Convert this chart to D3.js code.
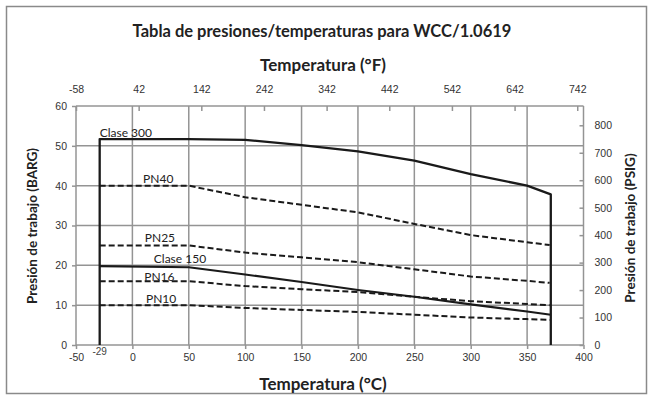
<!DOCTYPE html>
<html><head><meta charset="utf-8">
<script src="https://cdn.jsdelivr.net/npm/d3@7"></script>
<style>
body{margin:0;background:#fff;}
svg{display:block;}
</style></head>
<body>
<svg id="c" width="653" height="400"></svg>
<script>
// ---- data ----
const titleText = "Tabla de presiones/temperaturas para WCC/1.0619";
const xTicksC = [-50, 0, 50, 100, 150, 200, 250, 300, 350, 400];
const xTicksF = [-58, 42, 142, 242, 342, 442, 542, 642, 742];
const yTicksBar = [0, 10, 20, 30, 40, 50, 60];
const yTicksPsi = [0, 100, 200, 300, 400, 500, 600, 700, 800];

const clase300T = [-29, -29, 50, 100, 150, 200, 250, 300, 350, 371, 371];
const clase300V = [0, 51.7, 51.7, 51.5, 50.2, 48.6, 46.3, 42.9, 40.0, 37.8, 0];
const clase150T = [-29, 50, 100, 150, 200, 250, 300, 350, 371];
const clase150V = [19.8, 19.5, 17.7, 15.8, 13.8, 12.1, 10.2, 8.4, 7.6];
const pnT = [-29, 50, 100, 150, 200, 250, 300, 350, 370];
const pn40V = [40, 40, 37.1, 35.2, 33.3, 30.4, 27.6, 25.8, 25.1];
const pn25V = [25, 25, 23.2, 22.0, 20.8, 19.0, 17.2, 16.1, 15.6];
const pn16V = [16, 16, 14.8, 14.0, 13.3, 12.1, 11.0, 10.3, 10.0];
const pn10V = [10, 10, 9.3, 8.8, 8.3, 7.6, 6.9, 6.5, 6.3];

const seriesNames = ["Clase 300", "PN40", "PN25", "Clase 150", "PN16", "PN10"];

// ---- layout ----
const svg = d3.select("#c");
const L = 76, R = 583.5, T = 106, B = 345;
const x = d3.scaleLinear().domain([-50, 400]).range([L, R]);
const y = d3.scaleLinear().domain([0, 60]).range([B, T]);
const BAR2PSI = 14.5038;
const yPsi = d3.scaleLinear().domain([0, 60 * BAR2PSI]).range([B, T]);
const c2f = c => c * 9 / 5 + 32;
const xF = d3.scaleLinear().domain([c2f(-50), c2f(400)]).range([L, R]);

const gridCol = "#949494";
const tickFont = "'Liberation Sans', Arial, sans-serif";
const titleFont = "Lato, 'Open Sans', sans-serif";
const fmt = d => String(d);

// outer border
svg.append("rect").attr("x", 6.5).attr("y", 6.5).attr("width", 640).attr("height", 387)
  .attr("fill", "none").attr("stroke", "#8a8a8a").attr("stroke-width", 1.5);

// title
svg.append("text").attr("x", 322).attr("y", 37).attr("text-anchor", "middle")
  .attr("font-family", titleFont).attr("font-weight", "bold").attr("font-size", 16.5)
  .attr("fill", "#222").text(titleText);

// grid
const grid = svg.append("g");
grid.selectAll(".vg").data(xTicksC).join("line")
  .attr("x1", d => x(d)).attr("x2", d => x(d)).attr("y1", T).attr("y2", B)
  .attr("stroke", gridCol).attr("stroke-width", 1.5);
grid.selectAll(".hg").data(yTicksBar).join("line")
  .attr("x1", L).attr("x2", R).attr("y1", d => y(d)).attr("y2", d => y(d))
  .attr("stroke", gridCol).attr("stroke-width", 1.5);

function styleAxis(g) {
  g.select(".domain").remove();
  g.selectAll(".tick line").attr("stroke", gridCol).attr("stroke-width", 1.5);
  g.selectAll(".tick text").attr("font-family", tickFont).attr("font-size", 10.5).attr("fill", "#333");
}

// bottom axis
svg.append("g").attr("transform", `translate(0,${B})`)
  .call(d3.axisBottom(x).tickValues(xTicksC).tickSize(4).tickPadding(5).tickFormat(fmt))
  .call(styleAxis);
// left axis
svg.append("g").attr("transform", `translate(${L},0)`)
  .call(d3.axisLeft(y).tickValues(yTicksBar).tickSize(4).tickPadding(5).tickFormat(fmt))
  .call(styleAxis);
// right axis (PSIG)
svg.append("g").attr("transform", `translate(${R},0)`)
  .call(d3.axisRight(yPsi).tickValues(yTicksPsi).tickSizeInner(-4).tickSizeOuter(0).tickPadding(11).tickFormat(fmt))
  .call(styleAxis);
// top axis (°F)
svg.append("g").attr("transform", `translate(0,${T})`)
  .call(d3.axisTop(xF).tickValues(xTicksF).tickSizeInner(-5).tickSizeOuter(0).tickPadding(13).tickFormat(fmt))
  .call(styleAxis);

// -29 label
svg.append("text").attr("x", x(-29)).attr("y", 355).attr("text-anchor", "middle")
  .attr("font-family", tickFont).attr("font-size", 10).attr("fill", "#444").text("-29");

// axis titles
svg.append("text").attr("x", 323).attr("y", 71).attr("text-anchor", "middle")
  .attr("font-family", titleFont).attr("font-weight", "bold").attr("font-size", 17)
  .attr("fill", "#222").text("Temperatura (°F)");
svg.append("text").attr("x", 323).attr("y", 390).attr("text-anchor", "middle")
  .attr("font-family", titleFont).attr("font-weight", "bold").attr("font-size", 17)
  .attr("fill", "#222").text("Temperatura (°C)");
svg.append("text").attr("transform", "translate(37,226) rotate(-90)").attr("text-anchor", "middle")
  .attr("font-family", titleFont).attr("font-weight", "bold").attr("font-size", 13.5)
  .attr("fill", "#222").text("Presión de trabajo (BARG)");
svg.append("text").attr("transform", "translate(635,228) rotate(-90)").attr("text-anchor", "middle")
  .attr("font-family", titleFont).attr("font-weight", "bold").attr("font-size", 13.5)
  .attr("fill", "#222").text("Presión de trabajo (PSIG)");

// lines
const line = d3.line().x(d => x(d[0])).y(d => y(d[1]));
const zip = (a, b) => a.map((t, i) => [t, b[i]]);
const series = [
  {data: zip(clase300T, clase300V), dash: null, w: 2.3},
  {data: zip(pnT, pn40V), dash: "6,3", w: 2},
  {data: zip(pnT, pn25V), dash: "6,3", w: 2},
  {data: zip(clase150T, clase150V), dash: null, w: 2.1},
  {data: zip(pnT, pn16V), dash: "6,3", w: 2},
  {data: zip(pnT, pn10V), dash: "6,3", w: 2}
];
svg.append("g").selectAll("path").data(series).join("path")
  .attr("d", d => line(d.data)).attr("fill", "none").attr("stroke", "#1a1a1a")
  .attr("stroke-width", d => d.w).attr("stroke-dasharray", d => d.dash)
  .attr("stroke-linejoin", "round");

// series labels (anchor temperature / value)
const labelT = [-29, 9.5, 11, 19, 10.5, 12];
const labelV = [52.3, 40.7, 25.9, 20.6, 16.1, 10.5];
svg.append("g").selectAll("text").data(seriesNames).join("text")
  .attr("x", (d, i) => x(labelT[i]))
  .attr("y", (d, i) => y(labelV[i]))
  .attr("font-family", titleFont).attr("font-size", 12).attr("fill", "#222")
  .text(d => d);
</script>
</body></html>
